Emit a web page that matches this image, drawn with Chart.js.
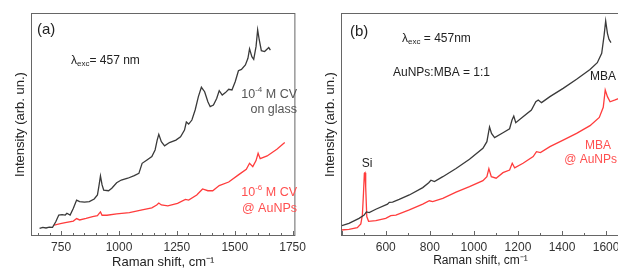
<!DOCTYPE html>
<html>
<head>
<meta charset="utf-8">
<script src="https://cdn.jsdelivr.net/npm/chart.js@4.4.0/dist/chart.umd.min.js"></script>
<style>
  html, body { margin: 0; padding: 0; background: #fff; overflow: hidden; width: 618px; height: 273px; }
  #panel-a { position: absolute; left: 0; top: 0; }
  #panel-b { position: absolute; left: 310px; top: 0; }
</style>
</head>
<body>
<canvas id="panel-a" width="310" height="273"></canvas>
<canvas id="panel-b" width="318" height="273"></canvas>
<script>
// (a) crystal violet spectra
const shiftCvGlass = [657,671,685,699,713,727,740,754,768,775,789,803,817,830,851,872,893,907,913,920,927,934,955,969,990,1010,1038,1066,1086,1100,1121,1142,1156,1165,1172,1183,1197,1218,1246,1266,1283,1291,1301,1315,1329,1343,1356,1370,1384,1394,1408,1422,1433,1446,1460,1474,1488,1502,1516,1529,1546,1557,1564,1574,1582,1592,1599,1606,1615,1629,1647,1654];
const intensityCvGlass = [3.4,3.9,3.6,4.0,3.9,6.4,9.4,9.6,9.4,10.2,9.4,12.4,16.1,15.4,15.2,15.4,16.6,18.4,22.1,26.9,22.9,20.6,20.3,21.4,23.9,25.1,25.9,27.1,28.1,32.6,34.1,35.6,38.6,43.0,45.6,42.3,40.4,41.9,43.0,44.5,47.5,51.1,50.2,52.0,56.5,62.5,66.7,64.7,60.2,58.0,58.7,61.7,65.2,63.2,64.3,65.8,65.5,69.2,74.1,74.7,76.7,79.7,83.9,80.4,79.2,84.9,92.4,87.9,83.1,82.7,84.5,83.4];
const shiftCvAu = [720,747,768,803,817,830,858,886,907,913,920,927,948,990,1045,1100,1142,1163,1172,1183,1211,1253,1287,1301,1336,1361,1384,1405,1433,1474,1516,1550,1564,1578,1592,1601,1610,1640,1682,1716];
const intensityCvAu = [4.9,5.5,6.0,6.7,7.8,7.2,7.9,8.7,9.1,9.9,10.8,9.3,9.3,9.9,10.5,11.7,12.6,13.9,14.8,13.9,13.5,14.6,16.4,16.1,18.4,21.1,20.3,20.3,22.6,24.2,27.4,29.9,32.6,31.1,33.8,37.1,34.7,35.9,38.9,41.9];

// (b) MBA spectra
const shiftMba = [397,433,479,502,512,525,555,608,616,631,661,707,768,795,805,821,859,919,980,1041,1059,1071,1080,1094,1132,1162,1173,1181,1190,1223,1261,1281,1292,1307,1345,1405,1466,1527,1560,1580,1591,1598,1606,1613,1622];
const intensityMba = [4.5,5.7,7.9,9.4,10.8,10.5,12.0,14.3,15.1,15.2,16.4,18.4,21.7,23.9,25.0,24.4,26.6,30.3,34.4,39.3,42.3,48.9,46.0,44.1,46.3,48.1,52.0,53.8,50.8,53.5,56.5,60.2,61.0,59.8,62.5,66.2,70.3,74.7,77.7,81.9,90.1,96.4,90.9,88.2,86.7];
const shiftMbaAu = [397,433,471,487,494,499,503,506,509,514,522,555,600,623,646,707,768,798,813,859,919,980,1041,1059,1068,1079,1101,1132,1162,1174,1185,1223,1269,1284,1302,1345,1405,1466,1527,1569,1587,1596,1606,1618,1641,1656];
const intensityMbaAu = [2.7,3.0,3.7,5.4,9.4,19.1,28.1,28.4,22.1,8.7,6.6,6.9,7.9,9.1,9.4,11.7,14.3,15.8,15.4,16.9,19.7,22.1,24.8,26.6,30.2,26.6,25.9,28.4,29.6,32.6,30.6,32.6,35.6,37.8,37.4,40.1,43.0,46.0,49.5,53.2,57.7,65.5,62.5,60.2,61.0,61.6];

const ticksA = [750, 1000, 1250, 1500, 1750];
const ticksB = [600, 800, 1000, 1200, 1400, 1600];

const FONT = "'Liberation Sans', Arial, sans-serif";
const DARK = '#3a3a3a';
const RED = '#ff3c3c';

function pts(xs, ys) {
    return xs.map((x, i) => ({ x: x, y: ys[i] }));
}

// draw a line of text made of pieces (sub/superscripts)
function drawRich(ctx, x, y, parts, align, color) {
    ctx.fillStyle = color;
    ctx.textBaseline = 'middle';
    ctx.textAlign = 'left';
    let w = 0;
    parts.forEach(p => { ctx.font = p[1] + 'px ' + FONT; w += ctx.measureText(p[0]).width; });
    let cx = x;
    if (align === 'right') cx = x - w;
    if (align === 'center') cx = x - w / 2;
    parts.forEach(p => {
        ctx.font = p[1] + 'px ' + FONT;
        ctx.fillText(p[0], cx, y + (p[2] || 0));
        cx += ctx.measureText(p[0]).width;
    });
}

const framePlugin = {
    id: 'frame',
    afterDraw(chart, args, opts) {
        const { ctx, chartArea: a } = chart;
        const x = chart.scales.x;
        ctx.save();
        ctx.strokeStyle = '#666';
        ctx.lineWidth = 1;
        ctx.strokeRect(a.left + 0.5, a.top + 0.5, a.right - a.left - 1, a.bottom - a.top - 1);
        ctx.beginPath();
        for (let v = Math.ceil(x.min / opts.minor) * opts.minor; v <= x.max; v += opts.minor) {
            const px = Math.round(x.getPixelForValue(v)) + 0.5;
            const len = v % opts.major === 0 ? 5 : 3;
            ctx.moveTo(px, a.bottom);
            ctx.lineTo(px, a.bottom - len);
        }
        ctx.stroke();
        (opts.notes || []).forEach(n => drawRich(ctx, n.x, n.y, n.parts, n.align, n.color));
        ctx.restore();
    }
};

function makeChart(id, sets, xMin, xMax, tickVals, frame, right, titleSize, xTitlePad) {
    return new Chart(document.getElementById(id), {
        type: 'line',
        data: {
            datasets: sets.map(s => ({
                data: s.data,
                borderColor: s.color,
                borderWidth: 1.3,
                pointRadius: 0,
                tension: 0,
                fill: false
            }))
        },
        options: {
            responsive: false,
            animation: false,
            layout: { padding: { left: 0, right: right, top: 13, bottom: 0 } },
            plugins: { legend: { display: false }, tooltip: { enabled: false }, frame: frame },
            scales: {
                x: {
                    type: 'linear',
                    min: xMin,
                    max: xMax,
                    afterBuildTicks: s => { s.ticks = tickVals.map(v => ({ value: v })); },
                    afterFit: s => { s.height = 37; },
                    grid: { display: false, drawTicks: false },
                    border: { display: false },
                    ticks: {
                        padding: 4,
                        color: '#333',
                        font: { family: FONT, size: 12 },
                        callback: v => String(v)
                    },
                    title: {
                        display: true,
                        text: 'Raman shift, cm\u207B\u00B9',
                        color: '#222',
                        font: { family: FONT, size: titleSize },
                        padding: { top: 0, bottom: xTitlePad }
                    }
                },
                y: {
                    min: 0,
                    max: 100,
                    afterFit: s => { s.width = 31; },
                    grid: { display: false, drawTicks: false },
                    border: { display: false },
                    ticks: { display: false },
                    title: {
                        display: true,
                        text: 'Intensity (arb. un.)',
                        color: '#222',
                        font: { family: FONT, size: 13 },
                        padding: { top: 13, bottom: 0 }
                    }
                }
            }
        },
        plugins: [framePlugin]
    });
}

makeChart('panel-a', [
    { data: pts(shiftCvGlass, intensityCvGlass), color: DARK },
    { data: pts(shiftCvAu, intensityCvAu), color: RED }
], 620, 1762, ticksA, {
    minor: 50, major: 250,
    notes: [
        { x: 37, y: 30, align: 'left', color: '#222', parts: [['(a)', 15]] },
        { x: 71, y: 61, align: 'left', color: '#222', parts: [['\u03BB', 12], ['exc', 8, 3], ['= 457 nm', 12]] },
        { x: 297, y: 95, align: 'right', color: '#555', parts: [['10', 12.5], ['-4', 8, -5], [' M CV', 12.5]] },
        { x: 297, y: 110, align: 'right', color: '#555', parts: [['on glass', 12.5]] },
        { x: 297, y: 193, align: 'right', color: '#ff5050', parts: [['10', 12.5], ['-6', 8, -5], [' M CV', 12.5]] },
        { x: 297, y: 209, align: 'right', color: '#ff5050', parts: [['@ AuNPs', 12.5]] }
    ]
}, 4, 13, 3);

makeChart('panel-b', [
    { data: pts(shiftMba, intensityMba), color: DARK },
    { data: pts(shiftMbaAu, intensityMbaAu), color: RED }
], 397, 1663, ticksB, {
    minor: 100, major: 200,
    notes: [
        { x: 40, y: 32, align: 'left', color: '#222', parts: [['(b)', 15]] },
        { x: 92, y: 39, align: 'left', color: '#222', parts: [['\u03BB', 12], ['exc', 8, 3], [' = 457nm', 12]] },
        { x: 83, y: 73, align: 'left', color: '#222', parts: [['AuNPs:MBA = 1:1', 12]] },
        { x: 280, y: 77, align: 'left', color: '#222', parts: [['MBA', 12]] },
        { x: 288, y: 146, align: 'center', color: '#ff5050', parts: [['MBA', 12]] },
        { x: 307, y: 160, align: 'right', color: '#ff5050', parts: [['@ AuNPs', 12]] },
        { x: 57, y: 164, align: 'center', color: '#222', parts: [['Si', 12]] }
    ]
}, 8, 12, 5);
</script>
</body>
</html>
